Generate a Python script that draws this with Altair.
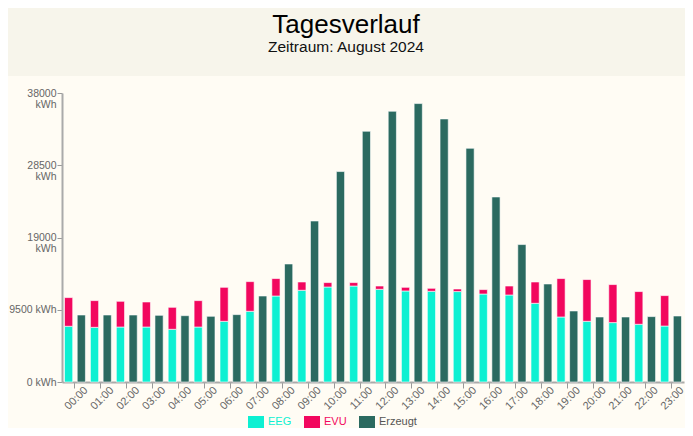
import altair as alt
import pandas as pd

hours = ["00:00", "01:00", "02:00", "03:00", "04:00", "05:00", "06:00", "07:00",
         "08:00", "09:00", "10:00", "11:00", "12:00", "13:00", "14:00", "15:00",
         "16:00", "17:00", "18:00", "19:00", "20:00", "21:00", "22:00", "23:00"]
eeg = [7330, 7190, 7230, 7230, 6930, 7230, 7980, 9300, 11310, 12060, 12490, 12620,
       12190, 11970, 11930, 11890, 11570, 11440, 10350, 8550, 7980, 7810, 7590, 7360]
evu = [3770, 3510, 3380, 3290, 2890, 3470, 4470, 3900, 2290, 1090, 580, 450,
       430, 480, 390, 340, 580, 1180, 2800, 5050, 5490, 5000, 4300, 4000]
erzeugt = [8810, 8810, 8810, 8770, 8720, 8640, 8860, 11310, 15520, 21170, 27670, 32970,
           35600, 36610, 34590, 30730, 24330, 18070, 12890, 9340, 8550, 8550, 8600, 8680]
series = ["EEG", "EVU", "Erzeugt"]
colors = ["#0df0d2", "#f2075e", "#2b6a60"]
y_ticks = [0, 9500, 19000, 28500, 38000]

rows = []
for i, h in enumerate(hours):
    rows.append({"hour": h, "series": "EEG", "value": eeg[i], "grp": "a", "ord": 0})
    rows.append({"hour": h, "series": "EVU", "value": evu[i], "grp": "a", "ord": 1})
    rows.append({"hour": h, "series": "Erzeugt", "value": erzeugt[i], "grp": "b", "ord": 2})
df = pd.DataFrame(rows)

FONT = "Liberation Sans"
HEADER = "#f7f5eb"
BG = "#fffcf4"

header = alt.Chart(alt.Data(values=[{"k": 1}])).mark_rect(color=HEADER).encode(
    x=alt.value(-54), x2=alt.value(640), y=alt.value(-85), y2=alt.value(-17)
)

label_color = ("datum.label == 'EEG' ? '#0df0d2' : "
               "(datum.label == 'EVU' ? '#f2075e' : '#555555')")

bars = alt.Chart(df).mark_bar(stroke="#ffffff", strokeWidth=1, strokeOpacity=0.6).encode(
    x=alt.X("hour:N", sort=hours,
            scale=alt.Scale(paddingInner=0, paddingOuter=0),
            axis=alt.Axis(title=None, labelAngle=315, labelAlign="center",
                          labelBaseline="middle", labelOffset=1.5, labelPadding=10,
                          labelFontSize=11, labelFont=FONT,
                          labelColor="#666666", tickColor="#999999", tickSize=6,
                          domainColor="#aaaaaa", domainWidth=2, grid=False)),
    xOffset=alt.XOffset("grp:N", scale=alt.Scale(paddingInner=0.354, paddingOuter=0.197)),
    y=alt.Y("value:Q", stack="zero",
            scale=alt.Scale(domain=[0, 38000], nice=False),
            axis=alt.Axis(values=y_ticks, title=None, grid=False,
                          labelExpr="datum.value >= 10000 ? [datum.value + '', 'kWh'] : datum.value + ' kWh'",
                          labelFontSize=10.5, labelFont=FONT, labelColor="#666666",
                          labelLineHeight=11, labelPadding=1,
                          tickColor="#999999", tickSize=5,
                          domainColor="#aaaaaa", domainWidth=2)),
    color=alt.Color("series:N", scale=alt.Scale(domain=series, range=colors),
                    legend=alt.Legend(orient="none", legendX=186, legendY=321,
                                      direction="horizontal", title=None,
                                      symbolType="M-1,-0.75H1V0.75H-1Z", symbolSize=256,
                                      symbolStrokeWidth=0, labelFontSize=11, labelFont=FONT,
                                      labelOffset=4, columnPadding=12,
                                      labelColor=alt.ExprRef(expr=label_color))),
    order=alt.Order("ord:Q", sort="ascending"),
)

chart = alt.layer(header, bars).properties(
    width=622, height=289,
    autosize=alt.AutoSizeParams(type="none"),
    padding={"left": 54, "top": 85, "right": 1, "bottom": 46},
    background=BG,
    title=alt.TitleParams("Tagesverlauf", subtitle=["Zeitraum: August 2024"],
                          font=FONT, fontSize=26, fontWeight="normal", color="#000000",
                          subtitleFont=FONT, subtitleFontSize=15.5, subtitleColor="#111111",
                          subtitlePadding=2, anchor="middle", dx=-27, offset=-47),
).configure_view(strokeWidth=0)

chart.save("out.html", embed_options={"renderer": "svg", "actions": False})
